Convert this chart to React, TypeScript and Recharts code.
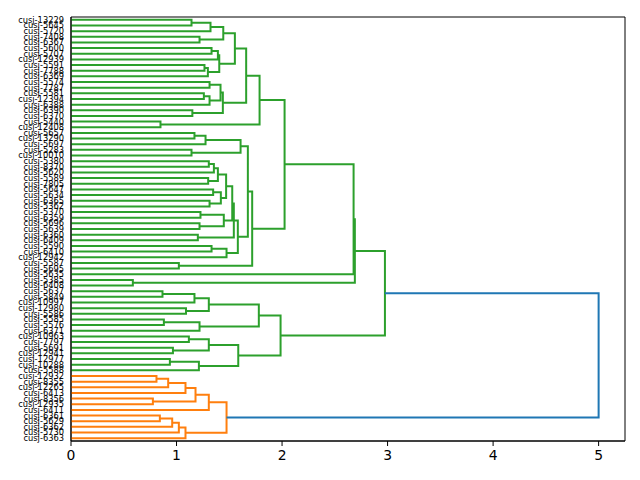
import { LineChart, Line, XAxis, YAxis, ReferenceArea } from 'recharts';

// leaf labels, top to bottom
const leafLabels = [
    'cusj-13229', 'cusj-5645', 'cusj-5720', 'cusj-7408', 'cusj-6367', 'cusj-5600', 'cusj-5707', 'cusj-12939',
    'cusj-5591', 'cusj-7788', 'cusj-6369', 'cusj-5574', 'cusj-7787', 'cusj-5581', 'cusj-12394', 'cusj-6388',
    'cusj-6390', 'cusj-6370', 'cusj-5440', 'cusj-12408', 'cusj-5657', 'cusj-13290', 'cusj-5697', 'cusj-5283',
    'cusj-10010', 'cusj-5380', 'cusj-8370', 'cusj-5620', 'cusj-5589', 'cusj-7805', 'cusj-5647', 'cusj-5634',
    'cusj-6365', 'cusj-5362', 'cusj-5370', 'cusj-6359', 'cusj-5696', 'cusj-5639', 'cusj-6360', 'cusj-6409',
    'cusj-5590', 'cusj-6410', 'cusj-12942', 'cusj-5587', 'cusj-5695', 'cusj-5635', 'cusj-5385', 'cusj-6408',
    'cusj-5637', 'cusj-5849', 'cusj-10997', 'cusj-12980', 'cusj-5586', 'cusj-5585', 'cusj-5576', 'cusj-6371',
    'cusj-10963', 'cusj-7797', 'cusj-5691', 'cusj-12941', 'cusj-12977', 'cusj-10288', 'cusj-5588', 'cusj-12932',
    'cusj-8355', 'cusj-12265', 'cusj-6413', 'cusj-8356', 'cusj-12935', 'cusj-6411', 'cusj-6361', 'cusj-5629',
    'cusj-6362', 'cusj-5730', 'cusj-6363',
];

// linkage rows: [child a, child b, distance]; ids >= 75 refer to earlier rows
const merges: [number, number, number][] = [
    [0, 1, 1.142], [75, 2, 1.322], [3, 4, 1.218], [76, 77, 1.443],
    [5, 6, 1.332], [79, 7, 1.392], [8, 9, 1.265], [81, 10, 1.297],
    [80, 82, 1.405], [78, 83, 1.553], [11, 12, 1.313], [13, 14, 1.259],
    [86, 15, 1.313], [85, 87, 1.417], [16, 17, 1.15], [88, 89, 1.439],
    [84, 90, 1.66], [18, 19, 0.848], [91, 92, 1.787],
    [20, 21, 1.17], [94, 22, 1.275], [23, 24, 1.142], [95, 96, 1.607],
    [25, 26, 1.306], [98, 27, 1.354], [28, 29, 1.3], [99, 100, 1.392],
    [30, 31, 1.347], [32, 33, 1.313], [102, 103, 1.42], [101, 104, 1.47],
    [34, 35, 1.227], [36, 37, 1.218], [106, 107, 1.448], [105, 108, 1.528],
    [38, 39, 1.202], [109, 110, 1.543], [40, 41, 1.332], [112, 42, 1.474],
    [111, 113, 1.581], [97, 114, 1.676], [43, 44, 1.022], [115, 116, 1.717],
    [93, 117, 2.024], [118, 45, 2.678], [46, 47, 0.586], [119, 120, 2.69],
    [48, 49, 0.867], [122, 50, 1.17], [51, 52, 1.09], [123, 124, 1.306],
    [53, 54, 0.88], [126, 55, 1.218], [125, 127, 1.78], [56, 57, 1.117],
    [58, 59, 0.966], [129, 130, 1.306], [60, 61, 0.937], [132, 62, 1.212],
    [131, 133, 1.585], [128, 134, 1.986], [121, 135, 2.975],
    [63, 64, 0.81], [137, 65, 0.921], [138, 66, 1.085], [67, 68, 0.776],
    [139, 140, 1.18], [141, 69, 1.306], [70, 71, 0.842], [143, 72, 0.959],
    [144, 73, 1.022], [145, 74, 1.085], [142, 146, 1.474],
    [136, 147, 5.0],
];

const xTicks = [0, 1, 2, 3, 4, 5];
const colorThreshold = 3.5;
const clusterColors = ['#ff7f0e', '#2ca02c'];
const aboveColor = '#1f77b4';

type Pt = { x: number; y: number | null };

const buildSeries = () => {
    const n = leafLabels.length;
    const pos: number[] = leafLabels.map((_, i) => 10 * i + 5);
    const height: number[] = leafLabels.map(() => 0);
    const parent: number[] = leafLabels.map(() => -1);
    merges.forEach(([a, b, h], k) => {
        pos.push((pos[a] + pos[b]) / 2);
        height.push(h);
        parent.push(-1);
        parent[a] = n + k;
        parent[b] = n + k;
    });

    // clusters cut below the threshold, coloured from the bottom up
    const roots = merges
        .map((_, k) => n + k)
        .filter((id) => height[id] < colorThreshold && (parent[id] < 0 || height[parent[id]] >= colorThreshold))
        .sort((p, q) => pos[q] - pos[p]);
    const rootColor = new Map<number, string>(roots.map((r, i) => [r, clusterColors[i % clusterColors.length]]));
    const colorOf = (id: number) => {
        let c = id;
        while (c >= 0 && !rootColor.has(c)) c = parent[c];
        return c >= 0 ? (rootColor.get(c) as string) : aboveColor;
    };

    const groups = new Map<string, Pt[]>();
    merges.forEach(([a, b, h], k) => {
        const color = colorOf(n + k);
        const pts = groups.get(color) || [];
        pts.push(
            { x: height[a], y: pos[a] },
            { x: h, y: pos[a] },
            { x: h, y: pos[b] },
            { x: height[b], y: pos[b] },
            { x: h, y: null }
        );
        groups.set(color, pts);
    });
    return Array.from(groups.entries()).map(([color, data]) => ({ color, data }));
};

const series = buildSeries();
const leafTicks = leafLabels.map((_, i) => 10 * i + 5);
const yMax = leafLabels.length * 10;

export default function App() {
    return (
        <div style={{ position: 'absolute', left: 0, top: 0, background: '#fff' }}>
            <LineChart width={640} height={480} margin={{ top: 17, right: 15, bottom: 0, left: 0 }}>
                <XAxis
                    type="number"
                    dataKey="x"
                    domain={[0, 5.25]}
                    ticks={xTicks}
                    allowDataOverflow
                    height={39}
                    tickSize={5}
                    tickMargin={4}
                    axisLine={{ stroke: '#000' }}
                    tickLine={{ stroke: '#000' }}
                    tick={{ fontSize: 13.9, fill: '#000', fontFamily: 'DejaVu Sans' }}
                />
                <YAxis
                    type="number"
                    domain={[0, yMax]}
                    reversed
                    ticks={leafTicks}
                    interval={0}
                    width={71}
                    tickSize={4}
                    tickMargin={3}
                    axisLine={{ stroke: '#000' }}
                    tickLine={false}
                    tickFormatter={(v: number) => leafLabels[Math.round((v - 5) / 10)] || ''}
                    tick={{ fontSize: 8.3, fill: '#000', fontFamily: 'DejaVu Sans' }}
                />
                <ReferenceArea x1={0} x2={5.25} y1={0} y2={yMax} fill="none" stroke="#000" strokeWidth={1} />
                {series.map((s) => (
                    <Line
                        key={s.color}
                        data={s.data}
                        dataKey="y"
                        type="linear"
                        stroke={s.color}
                        strokeWidth={2}
                        dot={false}
                        activeDot={false}
                        connectNulls={false}
                        isAnimationActive={false}
                    />
                ))}
            </LineChart>
        </div>
    );
}
